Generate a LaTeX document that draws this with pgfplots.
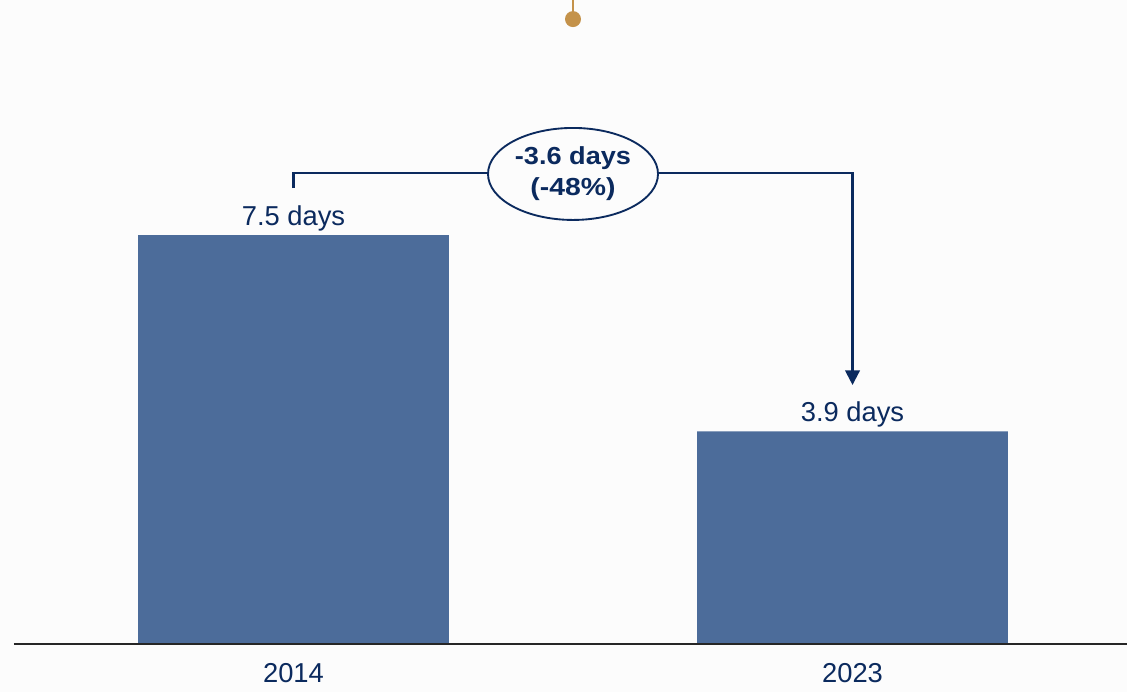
\documentclass[border=0pt]{standalone}
\usepackage{fontspec}
\setmainfont{Liberation Sans}
\usepackage{graphicx}
\usepackage{pgfplots}
\pgfplotsset{compat=1.18}
\usetikzlibrary{arrows.meta,shapes.geometric}
\definecolor{barblue}{HTML}{4C6C9A}
\definecolor{navy}{HTML}{0B2A5E}
\definecolor{gold}{HTML}{C4924A}
\definecolor{bg}{HTML}{FCFCFC}
\begin{document}
\begin{tikzpicture}
\fill[bg] (0,-36pt) rectangle (845.25pt,483pt);
\useasboundingbox (0,-36pt) rectangle (845.25pt,483pt);
\begin{axis}[
  at={(0,0)}, anchor=south west,
  scale only axis, width=845.25pt, height=483pt,
  xmin=-0.525, xmax=1.491, ymin=0, ymax=11.81,
  axis x line*=bottom, axis y line=none,
  x axis line style={draw=none},
  xtick={0,1}, xticklabels={2014,2023},
  ytick=\empty,
  major tick length=0pt,
  xticklabel style={anchor=base, yshift=-28.5pt, inner sep=0pt, text=navy,
    font=\fontsize{20.5}{24}\selectfont},
  clip=false,
]
\addplot[ybar, fill=barblue, draw=none, bar width=0.556,
  nodes near coords={\pgfmathprintnumber[fixed,fixed zerofill,precision=1,assume math mode=true]{\pgfplotspointmeta}~days},
  every node near coord/.style={anchor=base, yshift=7.5pt, inner sep=0pt, text=navy,
    font=\fontsize{20.5}{24}\selectfont}]
  coordinates {(0,7.5) (1,3.9)};
\draw[black!85, line width=1.5pt] (axis cs:-0.5,0) -- (axis cs:1.491,0);
% top decoration
\draw[gold, line width=1.2pt] (axis cs:0.5,11.81) -- (axis cs:0.5,11.46);
\fill[gold] (axis cs:0.5,11.46) circle (6pt);
% change annotation
\draw[navy, line width=1.6pt, -{Triangle[width=11pt,length=11pt]}]
  (axis cs:0,8.36) -- (axis cs:0,8.64) -- (axis cs:1,8.64) -- (axis cs:1,4.75);
\node[ellipse, draw=navy, line width=1.4pt, fill=bg, minimum width=127.5pt,
  minimum height=69pt, inner sep=0pt, align=center, text=navy,
  font=\fontsize{18.5}{23.25}\selectfont\bfseries]
  at (axis cs:0.5,8.62) {\scalebox{1.1}[1]{-3.6 days}\\\scalebox{1.15}[1]{(-48\%)}};
\end{axis}
\end{tikzpicture}
\end{document}
